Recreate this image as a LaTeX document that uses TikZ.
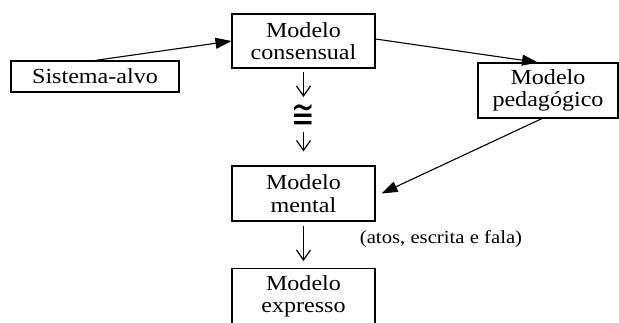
\documentclass[tikz,border=0pt]{standalone}
\usepackage{fontspec}
\setmainfont{Liberation Serif}
\newfontfamily\symfnt{DejaVu Sans}
\usetikzlibrary{arrows.meta}
\newcommand\sx[1]{\scalebox{1.12}[1]{#1}}
\begin{document}
\begin{tikzpicture}[x=1pt,y=-1pt,
  box/.style={draw,line width=1.1pt,inner sep=0pt,align=center,font=\fontsize{21.5}{22.5}\selectfont},
  fat/.style={line width=1.1pt,-{Triangle[length=16pt,width=11pt]}},
  thin/.style={line width=1.2pt,-{Straight Barb[length=10pt,width=14pt]}}]
\useasboundingbox (0,0) rectangle (619,322);
\clip (0,0) rectangle (619,322);
\node[box,minimum width=168pt,minimum height=31pt] (sis) at (95,76.5) {\sx{Sistema-alvo}};
\node[box,minimum width=143pt,minimum height=54pt] (cons) at (303.5,41) {\sx{Modelo}\\\sx{consensual}};
\node[box,minimum width=140pt,minimum height=55pt] (ped) at (548,90.5) {\sx{Modelo}\\\sx{pedagógico}};
\node[box,minimum width=143pt,minimum height=55pt] (ment) at (303.5,193.5) {\sx{Modelo}\\\sx{mental}};
\node[box,minimum width=143pt,minimum height=56pt,anchor=north] (expr) at (303.5,268) {\sx{Modelo}\\\sx{expresso}};
\node[inner sep=0pt,font=\symfnt\fontsize{28}{28}\selectfont] (cong) at (303.5,116.5) {\scalebox{1}[1.45]{≅}};
\node[font=\fontsize{18.5}{20}\selectfont] (lbl) at (441,239) {\sx{(atos, escrita e fala)}};
\draw[fat] (sis.north) -- (cons.west);
\draw[fat] ([yshift=2pt]cons.east) -- ([xshift=-10pt]ped.north);
\draw[fat] ([xshift=-6pt]ped.south) -- ([xshift=6pt]ment.east);
\draw[thin,shorten <=3pt,shorten >=19.5pt] (cons.south) -- (cong.center);
\draw[thin,shorten <=15.5pt,shorten >=14pt] (cong.center) -- (ment.north);
\draw[thin,shorten <=4pt,shorten >=7pt] (ment.south) -- (expr.north);
\end{tikzpicture}
\end{document}
